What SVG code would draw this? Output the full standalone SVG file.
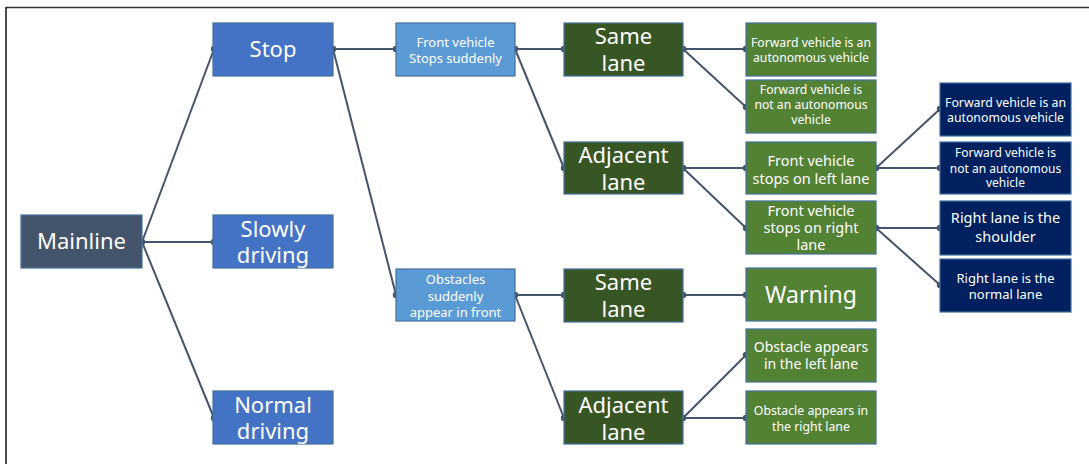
<svg xmlns="http://www.w3.org/2000/svg" width="1089" height="464" viewBox="0 0 1089 464">
<style>
text{font-family:"Noto Sans","Open Sans","DejaVu Sans",sans-serif;fill:#fff;text-anchor:middle}
.n rect{stroke:#41719C;stroke-width:1.2}
.dark{fill:#44546A}
.blue{fill:#4472C4}
.lblue{fill:#5B9BD5}
.dgreen{fill:#375623}
.green{fill:#548235}
.navy{fill:#002060}
.conn line{stroke:#44546A;stroke-width:2}
.conn circle{fill:#44546A}
</style>
<rect width="1089" height="464" fill="#fff"/>
<line x1="6" y1="7.5" x2="1089" y2="7.5" stroke="#333" stroke-width="1.5"/>
<line x1="6" y1="7" x2="6" y2="464" stroke="#111" stroke-width="1.5"/>

<g class="conn" id="connectors">
<line x1="142" y1="242" x2="214" y2="49"/>
<line x1="142" y1="242" x2="214" y2="242"/>
<line x1="142" y1="242" x2="214" y2="418"/>
<line x1="333" y1="49" x2="396" y2="49"/>
<line x1="333" y1="49" x2="396" y2="295"/>
<line x1="515" y1="49" x2="564" y2="49"/>
<line x1="515" y1="49" x2="564" y2="168"/>
<line x1="683" y1="49" x2="746" y2="49"/>
<line x1="683" y1="49" x2="746" y2="107"/>
<line x1="683" y1="168" x2="746" y2="168"/>
<line x1="683" y1="168" x2="746" y2="228"/>
<line x1="876" y1="168" x2="940" y2="109"/>
<line x1="876" y1="168" x2="940" y2="168"/>
<line x1="876" y1="228" x2="940" y2="228"/>
<line x1="876" y1="228" x2="940" y2="285"/>
<line x1="515" y1="295" x2="564" y2="295"/>
<line x1="515" y1="295" x2="564" y2="418"/>
<line x1="683" y1="295" x2="746" y2="295"/>
<line x1="683" y1="418" x2="746" y2="355"/>
<line x1="683" y1="418" x2="746" y2="418"/>
<circle cx="142" cy="242" r="3.2"/>
<circle cx="214" cy="49" r="3.2"/>
<circle cx="214" cy="242" r="3.2"/>
<circle cx="214" cy="418" r="3.2"/>
<circle cx="333" cy="49" r="3.2"/>
<circle cx="396" cy="49" r="3.2"/>
<circle cx="396" cy="295" r="3.2"/>
<circle cx="515" cy="49" r="3.2"/>
<circle cx="515" cy="295" r="3.2"/>
<circle cx="564" cy="49" r="3.2"/>
<circle cx="564" cy="168" r="3.2"/>
<circle cx="564" cy="295" r="3.2"/>
<circle cx="564" cy="418" r="3.2"/>
<circle cx="683" cy="49" r="3.2"/>
<circle cx="683" cy="168" r="3.2"/>
<circle cx="683" cy="295" r="3.2"/>
<circle cx="683" cy="418" r="3.2"/>
<circle cx="746" cy="49" r="3.2"/>
<circle cx="746" cy="107" r="3.2"/>
<circle cx="746" cy="168" r="3.2"/>
<circle cx="746" cy="228" r="3.2"/>
<circle cx="746" cy="295" r="3.2"/>
<circle cx="746" cy="355" r="3.2"/>
<circle cx="746" cy="418" r="3.2"/>
<circle cx="876" cy="168" r="3.2"/>
<circle cx="876" cy="228" r="3.2"/>
<circle cx="940" cy="109" r="3.2"/>
<circle cx="940" cy="168" r="3.2"/>
<circle cx="940" cy="228" r="3.2"/>
<circle cx="940" cy="285" r="3.2"/>
</g>

<g class="n" id="mainline"><rect class="dark" x="21" y="215" width="121" height="53"/><text x="81.5" y="249" font-size="22">Mainline</text></g>
<g class="n" id="stop"><rect class="blue" x="213" y="23" width="120" height="53"/><text x="273" y="57" font-size="22">Stop</text></g>
<g class="n" id="slowly"><rect class="blue" x="213" y="215" width="120" height="53"/><text x="273" y="237" font-size="22">Slowly<tspan x="273" dy="26">driving</tspan></text></g>
<g class="n" id="normal"><rect class="blue" x="213" y="391" width="120" height="53"/><text x="273" y="413" font-size="22">Normal<tspan x="273" dy="26">driving</tspan></text></g>

<g class="n" id="front-stops"><rect class="lblue" x="396" y="23" width="119" height="53"/><text x="455.5" y="47" font-size="13">Front vehicle<tspan x="455.5" dy="16">Stops suddenly</tspan></text></g>
<g class="n" id="obstacles"><rect class="lblue" x="396" y="269" width="119" height="52"/><text x="455.5" y="284" font-size="13">Obstacles<tspan x="455.5" dy="16.5">suddenly</tspan><tspan x="455.5" dy="16.5">appear in front</tspan></text></g>

<g class="n" id="same1"><rect class="dgreen" x="564" y="23" width="119" height="53"/><text x="623.5" y="44" font-size="22">Same<tspan x="623.5" dy="27">lane</tspan></text></g>
<g class="n" id="adj1"><rect class="dgreen" x="564" y="142" width="119" height="52"/><text x="623.5" y="163" font-size="22">Adjacent<tspan x="623.5" dy="27">lane</tspan></text></g>
<g class="n" id="same2"><rect class="dgreen" x="564" y="269" width="119" height="53"/><text x="623.5" y="290" font-size="22">Same<tspan x="623.5" dy="27">lane</tspan></text></g>
<g class="n" id="adj2"><rect class="dgreen" x="564" y="391" width="119" height="53"/><text x="623.5" y="413" font-size="22">Adjacent<tspan x="623.5" dy="27">lane</tspan></text></g>

<g class="n" id="fwd-av"><rect class="green" x="746" y="23" width="130" height="53"/><text x="811" y="47" font-size="12.2">Forward vehicle is an<tspan x="811" dy="15">autonomous vehicle</tspan></text></g>
<g class="n" id="fwd-notav"><rect class="green" x="746" y="80" width="130" height="53"/><text x="811" y="94" font-size="12.2">Forward vehicle is<tspan x="811" dy="15">not an autonomous</tspan><tspan x="811" dy="14.5">vehicle</tspan></text></g>
<g class="n" id="stops-left"><rect class="green" x="746" y="142" width="130" height="52"/><text x="811" y="166" font-size="14.5">Front vehicle<tspan x="811" dy="18">stops on left lane</tspan></text></g>
<g class="n" id="stops-right"><rect class="green" x="746" y="201" width="130" height="53"/><text x="811" y="216" font-size="14.5">Front vehicle<tspan x="811" dy="17">stops on right</tspan><tspan x="811" dy="17">lane</tspan></text></g>
<g class="n" id="warning"><rect class="green" x="746" y="268" width="130" height="53"/><text x="811" y="303" font-size="23">Warning</text></g>
<g class="n" id="obs-left"><rect class="green" x="746" y="329" width="130" height="53"/><text x="811" y="352" font-size="14">Obstacle appears<tspan x="811" dy="17">in the left lane</tspan></text></g>
<g class="n" id="obs-right"><rect class="green" x="746" y="391" width="130" height="53"/><text x="811" y="415" font-size="12.3">Obstacle appears in<tspan x="811" dy="16">the right lane</tspan></text></g>

<g class="n" id="n-av"><rect class="navy" x="940" y="83" width="131" height="53"/><text x="1005.5" y="107" font-size="12.3">Forward vehicle is an<tspan x="1005.5" dy="15">autonomous vehicle</tspan></text></g>
<g class="n" id="n-notav"><rect class="navy" x="940" y="142" width="131" height="52"/><text x="1005.5" y="157" font-size="12">Forward vehicle is<tspan x="1005.5" dy="15.5">not an autonomous</tspan><tspan x="1005.5" dy="14.5">vehicle</tspan></text></g>
<g class="n" id="n-shoulder"><rect class="navy" x="940" y="201" width="131" height="54"/><text x="1005.5" y="223" font-size="14.5">Right lane is the<tspan x="1005.5" dy="19">shoulder</tspan></text></g>
<g class="n" id="n-normal"><rect class="navy" x="940" y="259" width="131" height="53"/><text x="1005.5" y="283" font-size="13">Right lane is the<tspan x="1005.5" dy="16">normal lane</tspan></text></g>
</svg>
